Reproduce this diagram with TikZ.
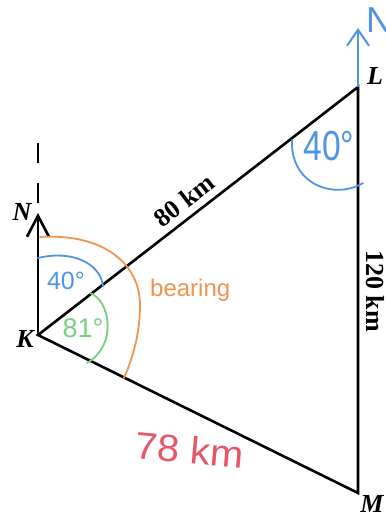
\documentclass[tikz,border=0pt]{standalone}
\usepackage{fontspec}
\setmainfont{Liberation Serif}
\newfontfamily\hand{Liberation Sans}
\usetikzlibrary{arrows.meta}
\definecolor{hblue}{RGB}{80,148,228}
\definecolor{horange}{RGB}{240,148,80}
\definecolor{hgreen}{RGB}{120,206,130}
\definecolor{hred}{RGB}{232,84,104}
\tikzset{
  edge/.style={line width=2.6pt, black},
  handline/.style={line width=1.8pt, line cap=round},
  vlabel/.style={font=\fontsize{26}{30}\selectfont\bfseries\itshape, inner sep=0pt},
  dlabel/.style={font=\fontsize{26}{30}\selectfont\bfseries, inner sep=0pt},
  htext/.style={font=\hand, inner sep=0pt},
}
\begin{document}
\begin{tikzpicture}[x=1pt,y=-1pt]
\useasboundingbox (0,0) rectangle (385,516);
\fill[white] (0,0) rectangle (385,516);
% points
\coordinate (K) at (38,335);
\coordinate (L) at (358,87);
\coordinate (M) at (358,493);
\coordinate (N) at (38,213);
\coordinate (LN) at (358,28);
\coordinate (D1) at (38,143);
\coordinate (D2) at (38,203);
% triangle
\draw[edge, line join=miter] (K) -- (L) -- (M) -- cycle;
% north at K
\draw[edge, -{Straight Barb[length=21pt,width=22pt]}] (K) -- (N);
\draw[line width=1.3pt, dash pattern=on 20pt off 20pt] (D1) -- (D2);
% north at L
\draw[hblue, line width=2pt, -{Straight Barb[length=16pt,width=22pt]}] (L) -- (LN);
\node[htext, text=hblue, font=\hand\fontsize{36}{40}\selectfont] (bN) at (379,20) {N};
% arcs
\draw[hblue, handline] (38,258) .. controls (70,250) and (100,262) .. (103,286);
\draw[hgreen, handline] (90,293) .. controls (110,300) and (118,345) .. (87,363);
\draw[horange, handline] (40,237) .. controls (105,233) and (140,265) .. (140,305)
   .. controls (140,335) and (132,360) .. (124,378);
\draw[hblue, handline] (292,140) .. controls (290,185) and (335,200) .. (363,183);
% vertex labels
\node[vlabel] (nN) at (22,212) {N};
\node[vlabel] (nK) at (25,339) {K};
\node[vlabel] (nL) at (375,76) {L};
\node[vlabel] (nM) at (372,504) {M};
% distance labels
\node[dlabel, rotate=37.8] (d80) at (184,200) {80 km};
\node[dlabel, rotate=-90] (d120) at (375,291) {120 km};
\node[htext, text=hred, font=\hand\fontsize{38}{42}\selectfont, rotate=-5, xscale=1.05] (d78) at (190,450) {78 km};
% angle labels
\node[htext, text=hblue, font=\hand\fontsize{25}{28}\selectfont] (a40K) at (66,281) {40°};
\node[htext, text=hgreen, font=\hand\fontsize{27}{30}\selectfont] (a81) at (83,328) {81°};
\node[htext, text=hblue, font=\hand\fontsize{42}{46}\selectfont, xscale=0.8] (a40L) at (329,146) {40°};
\node[htext, text=horange, font=\hand\fontsize{24}{28}\selectfont, anchor=base west] (bear) at (150,296) {bearing};
\end{tikzpicture}
\end{document}
